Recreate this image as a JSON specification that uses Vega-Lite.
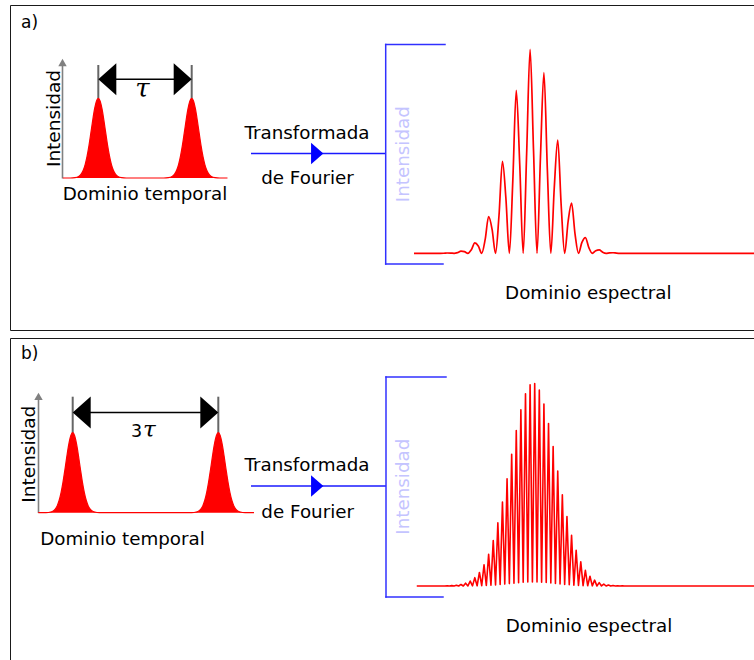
{
  "$schema": "https://vega.github.io/schema/vega-lite/v6.json",
  "width": 754,
  "height": 660,
  "autosize": {"type": "none"},
  "padding": 0,
  "background": "white",
  "config": {"view": {"stroke": null}, "text": {"font": "DejaVu Sans"}},
  "datasets": {
    "marcos": [
      {"x": 10.5, "x2": 754, "y": 5.5, "y2": 5.5},
      {"x": 10.5, "x2": 10.5, "y": 5.5, "y2": 330.5},
      {"x": 10.5, "x2": 754, "y": 330.5, "y2": 330.5},
      {"x": 10.5, "x2": 754, "y": 338.5, "y2": 338.5},
      {"x": 10.5, "x2": 10.5, "y": 338.5, "y2": 660}
    ],
    "ejes": [
      {"x": 62.5, "x2": 62.5, "y": 178.5, "y2": 65},
      {"x": 38.5, "x2": 38.5, "y": 513, "y2": 399}
    ],
    "puntas_eje": [
      {"x": 62.5, "y": 62.5},
      {"x": 38.5, "y": 396.4}
    ],
    "marcadores": [
      {"x": 98.3, "x2": 98.3, "y": 65, "y2": 98.5},
      {"x": 191.7, "x2": 191.7, "y": 65, "y2": 98.5},
      {"x": 72.7, "x2": 72.7, "y": 396.7, "y2": 433},
      {"x": 218.3, "x2": 218.3, "y": 396.7, "y2": 433}
    ],
    "flechas_retardo": [
      {"x": 100, "x2": 190, "y": 79.2, "y2": 79.2},
      {"x": 74, "x2": 217, "y": 412.5, "y2": 412.5}
    ],
    "puntas_izq": [
      {"x": 107.3, "y": 79.2},
      {"x": 81.7, "y": 412.5}
    ],
    "puntas_der": [
      {"x": 182.7, "y": 79.2},
      {"x": 209.3, "y": 412.5}
    ],
    "flechas_ft": [
      {"x": 251, "x2": 385.7, "y": 153.5, "y2": 153.5},
      {"x": 251, "x2": 386, "y": 486, "y2": 486}
    ],
    "puntas_ft": [
      {"x": 317.2, "y": 153.5},
      {"x": 317.2, "y": 486}
    ],
    "corchetes": [
      {"x": 385.7, "x2": 445, "y": 44.5, "y2": 44.5},
      {"x": 385.7, "x2": 385.7, "y": 44.5, "y2": 264},
      {"x": 385.7, "x2": 443, "y": 264, "y2": 264},
      {"x": 386, "x2": 446, "y": 377, "y2": 377},
      {"x": 386, "x2": 386, "y": 377, "y2": 597},
      {"x": 386, "x2": 443, "y": 597, "y2": 597}
    ],
    "paneles": [
      {"x": 21, "y": 28, "label": "a)"},
      {"x": 21, "y": 359, "label": "b)"}
    ],
    "rotulos": [
      {"x": 307, "y": 138.5, "label": "Transformada"},
      {"x": 307.5, "y": 184, "label": "de Fourier"},
      {"x": 145, "y": 199.5, "label": "Dominio temporal"},
      {"x": 588.3, "y": 298.5, "label": "Dominio espectral"},
      {"x": 307, "y": 470.7, "label": "Transformada"},
      {"x": 307.7, "y": 517.5, "label": "de Fourier"},
      {"x": 122.5, "y": 545, "label": "Dominio temporal"},
      {"x": 589, "y": 632, "label": "Dominio espectral"}
    ],
    "rotulos_verticales": [
      {"x": 59.5, "y": 118.5, "label": "Intensidad"},
      {"x": 34.5, "y": 454.2, "label": "Intensidad"}
    ],
    "rotulos_espectro": [
      {"x": 408.5, "y": 154.2, "label": "Intensidad"},
      {"x": 408.5, "y": 486.7, "label": "Intensidad"}
    ],
    "retardo_a": [{"x": 142.5, "y": 97, "label": "τ"}],
    "factor_b": [{"x": 136.5, "y": 436.7, "label": "3"}],
    "retardo_b": [{"x": 149.3, "y": 436.5, "label": "τ"}],
    "pulsos_a": [
      {"t": -0.38, "intensidad": 0}, {"t": -0.3, "intensidad": 0},
      {"t": -0.25, "intensidad": 0.0036}, {"t": -0.21, "intensidad": 0.0188},
      {"t": -0.18, "intensidad": 0.054}, {"t": -0.16, "intensidad": 0.0997},
      {"t": -0.14, "intensidad": 0.171}, {"t": -0.12, "intensidad": 0.273},
      {"t": -0.1, "intensidad": 0.406}, {"t": -0.08, "intensidad": 0.562},
      {"t": -0.06, "intensidad": 0.723}, {"t": -0.04, "intensidad": 0.866},
      {"t": -0.02, "intensidad": 0.965}, {"t": 0, "intensidad": 1},
      {"t": 0.02, "intensidad": 0.965}, {"t": 0.04, "intensidad": 0.866},
      {"t": 0.06, "intensidad": 0.723}, {"t": 0.08, "intensidad": 0.562},
      {"t": 0.1, "intensidad": 0.406}, {"t": 0.12, "intensidad": 0.273},
      {"t": 0.14, "intensidad": 0.171}, {"t": 0.16, "intensidad": 0.0997},
      {"t": 0.18, "intensidad": 0.054}, {"t": 0.21, "intensidad": 0.0188},
      {"t": 0.25, "intensidad": 0.0036}, {"t": 0.3, "intensidad": 0},
      {"t": 0.7, "intensidad": 0}, {"t": 0.75, "intensidad": 0.0036},
      {"t": 0.79, "intensidad": 0.0188}, {"t": 0.82, "intensidad": 0.054},
      {"t": 0.84, "intensidad": 0.0997}, {"t": 0.86, "intensidad": 0.171},
      {"t": 0.88, "intensidad": 0.273}, {"t": 0.9, "intensidad": 0.406},
      {"t": 0.92, "intensidad": 0.562}, {"t": 0.94, "intensidad": 0.723},
      {"t": 0.96, "intensidad": 0.866}, {"t": 0.98, "intensidad": 0.965},
      {"t": 1, "intensidad": 1}, {"t": 1.02, "intensidad": 0.965},
      {"t": 1.04, "intensidad": 0.866}, {"t": 1.06, "intensidad": 0.723},
      {"t": 1.08, "intensidad": 0.562}, {"t": 1.1, "intensidad": 0.406},
      {"t": 1.12, "intensidad": 0.273}, {"t": 1.14, "intensidad": 0.171},
      {"t": 1.16, "intensidad": 0.0997}, {"t": 1.18, "intensidad": 0.054},
      {"t": 1.21, "intensidad": 0.0188}, {"t": 1.25, "intensidad": 0.0036},
      {"t": 1.3, "intensidad": 0}, {"t": 1.383, "intensidad": 0}
    ],
    "pulsos_b": [
      {"t": -0.709, "intensidad": 0}, {"t": -0.6, "intensidad": 0},
      {"t": -0.5, "intensidad": 0.0025}, {"t": -0.42, "intensidad": 0.0144},
      {"t": -0.36, "intensidad": 0.0444}, {"t": -0.32, "intensidad": 0.0853},
      {"t": -0.28, "intensidad": 0.152}, {"t": -0.24, "intensidad": 0.25},
      {"t": -0.2, "intensidad": 0.382}, {"t": -0.16, "intensidad": 0.54},
      {"t": -0.12, "intensidad": 0.707}, {"t": -0.08, "intensidad": 0.857},
      {"t": -0.04, "intensidad": 0.962}, {"t": 0, "intensidad": 1},
      {"t": 0.04, "intensidad": 0.962}, {"t": 0.08, "intensidad": 0.857},
      {"t": 0.12, "intensidad": 0.707}, {"t": 0.16, "intensidad": 0.54},
      {"t": 0.2, "intensidad": 0.382}, {"t": 0.24, "intensidad": 0.25},
      {"t": 0.28, "intensidad": 0.152}, {"t": 0.32, "intensidad": 0.0853},
      {"t": 0.36, "intensidad": 0.0444}, {"t": 0.42, "intensidad": 0.0144},
      {"t": 0.5, "intensidad": 0.0025}, {"t": 0.6, "intensidad": 0},
      {"t": 2.4, "intensidad": 0}, {"t": 2.5, "intensidad": 0.0025},
      {"t": 2.58, "intensidad": 0.0144}, {"t": 2.64, "intensidad": 0.0444},
      {"t": 2.68, "intensidad": 0.0853}, {"t": 2.72, "intensidad": 0.152},
      {"t": 2.76, "intensidad": 0.25}, {"t": 2.8, "intensidad": 0.382},
      {"t": 2.84, "intensidad": 0.54}, {"t": 2.88, "intensidad": 0.707},
      {"t": 2.92, "intensidad": 0.857}, {"t": 2.96, "intensidad": 0.962},
      {"t": 3, "intensidad": 1}, {"t": 3.04, "intensidad": 0.962},
      {"t": 3.08, "intensidad": 0.857}, {"t": 3.12, "intensidad": 0.707},
      {"t": 3.16, "intensidad": 0.54}, {"t": 3.2, "intensidad": 0.382},
      {"t": 3.24, "intensidad": 0.25}, {"t": 3.28, "intensidad": 0.152},
      {"t": 3.32, "intensidad": 0.0853}, {"t": 3.36, "intensidad": 0.0444},
      {"t": 3.42, "intensidad": 0.0144}, {"t": 3.5, "intensidad": 0.0025},
      {"t": 3.6, "intensidad": 0}, {"t": 3.736, "intensidad": 0}
    ],
    "espectro_a": [
      {"nu": -8.4, "intensidad": 0}, {"nu": -6.5, "intensidad": 0},
      {"nu": -6.25, "intensidad": 0.0003}, {"nu": -6, "intensidad": 0.0014},
      {"nu": -5.75, "intensidad": 0.0012}, {"nu": -5.5, "intensidad": 0},
      {"nu": -5.25, "intensidad": 0.0032}, {"nu": -5, "intensidad": 0.0102},
      {"nu": -4.75, "intensidad": 0.0079}, {"nu": -4.5, "intensidad": 0},
      {"nu": -4.25, "intensidad": 0.0176}, {"nu": -4, "intensidad": 0.0508},
      {"nu": -3.75, "intensidad": 0.036}, {"nu": -3.5, "intensidad": 0},
      {"nu": -3.25, "intensidad": 0.0677}, {"nu": -3, "intensidad": 0.1796},
      {"nu": -2.75, "intensidad": 0.1167}, {"nu": -2.5, "intensidad": 0},
      {"nu": -2.25, "intensidad": 0.1846}, {"nu": -2, "intensidad": 0.4494},
      {"nu": -1.75, "intensidad": 0.2678}, {"nu": -1.5, "intensidad": 0},
      {"nu": -1.25, "intensidad": 0.3562}, {"nu": -1, "intensidad": 0.7955},
      {"nu": -0.75, "intensidad": 0.4346}, {"nu": -0.5, "intensidad": 0},
      {"nu": -0.25, "intensidad": 0.4863}, {"nu": 0, "intensidad": 0.9961},
      {"nu": 0.25, "intensidad": 0.4991}, {"nu": 0.5, "intensidad": 0},
      {"nu": 0.75, "intensidad": 0.4698}, {"nu": 1, "intensidad": 0.8825},
      {"nu": 1.25, "intensidad": 0.4056}, {"nu": 1.5, "intensidad": 0},
      {"nu": 1.75, "intensidad": 0.3211}, {"nu": 2, "intensidad": 0.5532},
      {"nu": 2.25, "intensidad": 0.2332}, {"nu": 2.5, "intensidad": 0},
      {"nu": 2.75, "intensidad": 0.1553}, {"nu": 3, "intensidad": 0.2453},
      {"nu": 3.25, "intensidad": 0.0948}, {"nu": 3.5, "intensidad": 0},
      {"nu": 3.75, "intensidad": 0.0531}, {"nu": 4, "intensidad": 0.0769},
      {"nu": 4.25, "intensidad": 0.0273}, {"nu": 4.5, "intensidad": 0},
      {"nu": 4.75, "intensidad": 0.0128}, {"nu": 5, "intensidad": 0.0171},
      {"nu": 5.25, "intensidad": 0.0056}, {"nu": 5.5, "intensidad": 0},
      {"nu": 5.75, "intensidad": 0.0022}, {"nu": 6, "intensidad": 0.0027},
      {"nu": 6.25, "intensidad": 0.0009}, {"nu": 6.5, "intensidad": 0},
      {"nu": 16.2, "intensidad": 0}
    ],
    "espectro_b": [
      {"nu": -8.2, "intensidad": 0}, {"nu": -6.167, "intensidad": 0},
      {"nu": -6, "intensidad": 0.001}, {"nu": -5.833, "intensidad": 0},
      {"nu": -5.667, "intensidad": 0.002}, {"nu": -5.5, "intensidad": 0},
      {"nu": -5.333, "intensidad": 0.004}, {"nu": -5.167, "intensidad": 0},
      {"nu": -5, "intensidad": 0.0076}, {"nu": -4.833, "intensidad": 0.0002},
      {"nu": -4.667, "intensidad": 0.0138}, {"nu": -4.5, "intensidad": 0.0004},
      {"nu": -4.333, "intensidad": 0.0243}, {"nu": -4.167, "intensidad": 0.0006},
      {"nu": -4, "intensidad": 0.0411}, {"nu": -3.833, "intensidad": 0.0011},
      {"nu": -3.667, "intensidad": 0.0666}, {"nu": -3.5, "intensidad": 0.0017},
      {"nu": -3.333, "intensidad": 0.1041}, {"nu": -3.167, "intensidad": 0.0026},
      {"nu": -3, "intensidad": 0.1558}, {"nu": -2.833, "intensidad": 0.0038},
      {"nu": -2.667, "intensidad": 0.2244}, {"nu": -2.5, "intensidad": 0.0053},
      {"nu": -2.333, "intensidad": 0.3108}, {"nu": -2.167, "intensidad": 0.0072},
      {"nu": -2, "intensidad": 0.4134}, {"nu": -1.833, "intensidad": 0.0094},
      {"nu": -1.667, "intensidad": 0.5281}, {"nu": -1.5, "intensidad": 0.0118},
      {"nu": -1.333, "intensidad": 0.649}, {"nu": -1.167, "intensidad": 0.0142},
      {"nu": -1, "intensidad": 0.7658}, {"nu": -0.833, "intensidad": 0.0164},
      {"nu": -0.667, "intensidad": 0.8684}, {"nu": -0.5, "intensidad": 0.0182},
      {"nu": -0.333, "intensidad": 0.9467}, {"nu": -0.167, "intensidad": 0.0195},
      {"nu": 0, "intensidad": 0.9914}, {"nu": 0.167, "intensidad": 0.02},
      {"nu": 0.333, "intensidad": 0.9977}, {"nu": 0.5, "intensidad": 0.0197},
      {"nu": 0.667, "intensidad": 0.9648}, {"nu": 0.833, "intensidad": 0.0187},
      {"nu": 1, "intensidad": 0.8967}, {"nu": 1.167, "intensidad": 0.017},
      {"nu": 1.333, "intensidad": 0.8008}, {"nu": 1.5, "intensidad": 0.0149},
      {"nu": 1.667, "intensidad": 0.687}, {"nu": 1.833, "intensidad": 0.0125},
      {"nu": 2, "intensidad": 0.5667}, {"nu": 2.167, "intensidad": 0.0101},
      {"nu": 2.333, "intensidad": 0.4491}, {"nu": 2.5, "intensidad": 0.0079},
      {"nu": 2.667, "intensidad": 0.3418}, {"nu": 2.833, "intensidad": 0.0059},
      {"nu": 3, "intensidad": 0.2502}, {"nu": 3.167, "intensidad": 0.0042},
      {"nu": 3.333, "intensidad": 0.176}, {"nu": 3.5, "intensidad": 0.0029},
      {"nu": 3.667, "intensidad": 0.1188}, {"nu": 3.833, "intensidad": 0.0019},
      {"nu": 4, "intensidad": 0.0772}, {"nu": 4.167, "intensidad": 0.0012},
      {"nu": 4.333, "intensidad": 0.0482}, {"nu": 4.5, "intensidad": 0.0008},
      {"nu": 4.667, "intensidad": 0.0289}, {"nu": 4.833, "intensidad": 0.0004},
      {"nu": 5, "intensidad": 0.0166}, {"nu": 5.167, "intensidad": 0.0002},
      {"nu": 5.333, "intensidad": 0.0092}, {"nu": 5.5, "intensidad": 0},
      {"nu": 5.667, "intensidad": 0.0049}, {"nu": 5.833, "intensidad": 0},
      {"nu": 6, "intensidad": 0.0025}, {"nu": 6.167, "intensidad": 0},
      {"nu": 6.333, "intensidad": 0.0012}, {"nu": 6.5, "intensidad": 0},
      {"nu": 6.667, "intensidad": 0.0006}, {"nu": 6.833, "intensidad": 0},
      {"nu": 16.2, "intensidad": 0}
    ]
  },
  "layer": [
    {
      "encoding": {
        "x": {"field": "x", "type": "quantitative", "axis": null,
              "scale": {"domain": [0, 754], "range": [0, 754], "nice": false, "zero": false}},
        "y": {"field": "y", "type": "quantitative", "axis": null,
              "scale": {"domain": [0, 660], "range": [0, 660], "nice": false, "zero": false}}
      },
      "layer": [
        {
          "data": {"name": "marcos"},
          "mark": {"type": "rule", "stroke": "#1a1a1a", "strokeWidth": 1},
          "encoding": {"x2": {"field": "x2"}, "y2": {"field": "y2"}}
        },
        {
          "data": {"name": "ejes"},
          "mark": {"type": "rule", "stroke": "#808080", "strokeWidth": 1.6},
          "encoding": {"x2": {"field": "x2"}, "y2": {"field": "y2"}}
        },
        {
          "data": {"name": "marcadores"},
          "mark": {"type": "rule", "stroke": "#666666", "strokeWidth": 2},
          "encoding": {"x2": {"field": "x2"}, "y2": {"field": "y2"}}
        },
        {
          "data": {"name": "flechas_retardo"},
          "mark": {"type": "rule", "stroke": "#000000", "strokeWidth": 1.5},
          "encoding": {"x2": {"field": "x2"}, "y2": {"field": "y2"}}
        },
        {
          "data": {"name": "flechas_ft"},
          "mark": {"type": "rule", "stroke": "#1a1aff", "strokeWidth": 1.3},
          "encoding": {"x2": {"field": "x2"}, "y2": {"field": "y2"}}
        },
        {
          "data": {"name": "corchetes"},
          "mark": {"type": "rule", "stroke": "#3030ff", "strokeWidth": 1.5, "strokeCap": "square"},
          "encoding": {"x2": {"field": "x2"}, "y2": {"field": "y2"}}
        },
        {
          "data": {"name": "puntas_eje"},
          "mark": {"type": "point", "shape": "M0,-0.87L1,0.87L-1,0.87Z", "size": 71,
                   "filled": true, "fill": "#808080", "strokeWidth": 0, "opacity": 1}
        },
        {
          "data": {"name": "puntas_izq"},
          "mark": {"type": "point", "shape": "M-0.5625,0L0.5625,-1L0.5625,1Z", "size": 1024,
                   "filled": true, "fill": "#000000", "strokeWidth": 0, "opacity": 1}
        },
        {
          "data": {"name": "puntas_der"},
          "mark": {"type": "point", "shape": "M0.5625,0L-0.5625,-1L-0.5625,1Z", "size": 1024,
                   "filled": true, "fill": "#000000", "strokeWidth": 0, "opacity": 1}
        },
        {
          "data": {"name": "puntas_ft"},
          "mark": {"type": "point", "shape": "M0.567,0L-0.567,-1L-0.567,1Z", "size": 471,
                   "filled": true, "fill": "#0000ff", "strokeWidth": 0, "opacity": 1}
        },
        {
          "data": {"name": "paneles"},
          "mark": {"type": "text", "fontSize": 17, "align": "left", "baseline": "alphabetic", "fill": "#000000"},
          "encoding": {"text": {"field": "label"}}
        },
        {
          "data": {"name": "rotulos"},
          "mark": {"type": "text", "fontSize": 18.3, "align": "center", "baseline": "alphabetic", "fill": "#000000"},
          "encoding": {"text": {"field": "label"}}
        },
        {
          "data": {"name": "rotulos_verticales"},
          "mark": {"type": "text", "fontSize": 18.5, "angle": 270, "align": "center", "baseline": "alphabetic", "fill": "#000000"},
          "encoding": {"text": {"field": "label"}}
        },
        {
          "data": {"name": "rotulos_espectro"},
          "mark": {"type": "text", "fontSize": 18.3, "angle": 270, "align": "center", "baseline": "alphabetic", "fill": "#c4c4ff"},
          "encoding": {"text": {"field": "label"}}
        },
        {
          "data": {"name": "retardo_a"},
          "mark": {"type": "text", "font": "DejaVu Serif", "fontStyle": "italic", "fontSize": 26, "align": "center", "baseline": "alphabetic", "fill": "#000000"},
          "encoding": {"text": {"field": "label"}}
        },
        {
          "data": {"name": "factor_b"},
          "mark": {"type": "text", "fontSize": 17.5, "align": "center", "baseline": "alphabetic", "fill": "#000000"},
          "encoding": {"text": {"field": "label"}}
        },
        {
          "data": {"name": "retardo_b"},
          "mark": {"type": "text", "font": "DejaVu Serif", "fontStyle": "italic", "fontSize": 23, "align": "center", "baseline": "alphabetic", "fill": "#000000"},
          "encoding": {"text": {"field": "label"}}
        }
      ]
    },
    {
      "data": {"name": "pulsos_a"},
      "mark": {"type": "area", "interpolate": "monotone", "fill": "#ff0000", "opacity": 1,
               "line": {"stroke": "#ff0000", "strokeWidth": 1.2}},
      "encoding": {
        "x": {"field": "t", "type": "quantitative", "axis": null,
              "scale": {"domain": [0, 1], "range": [98.3, 191.7], "nice": false, "zero": false}},
        "y": {"field": "intensidad", "type": "quantitative", "axis": null, "stack": null,
              "scale": {"domain": [0, 1], "range": [178, 98.3], "nice": false, "zero": false}}
      }
    },
    {
      "data": {"name": "pulsos_b"},
      "mark": {"type": "area", "interpolate": "monotone", "fill": "#ff0000", "opacity": 1,
               "line": {"stroke": "#ff0000", "strokeWidth": 1.2}},
      "encoding": {
        "x": {"field": "t", "type": "quantitative", "axis": null,
              "scale": {"domain": [0, 3], "range": [72.7, 218.3], "nice": false, "zero": false}},
        "y": {"field": "intensidad", "type": "quantitative", "axis": null, "stack": null,
              "scale": {"domain": [0, 1], "range": [512.7, 432.7], "nice": false, "zero": false}}
      }
    },
    {
      "data": {"name": "espectro_a"},
      "mark": {"type": "line", "interpolate": "monotone", "stroke": "#ff0000", "strokeWidth": 1.7, "strokeJoin": "round"},
      "encoding": {
        "x": {"field": "nu", "type": "quantitative", "axis": null,
              "scale": {"domain": [-8.4, 16.2], "range": [414, 754], "nice": false, "zero": false}},
        "y": {"field": "intensidad", "type": "quantitative", "axis": null,
              "scale": {"domain": [0, 1], "range": [253.3, 48.5], "nice": false, "zero": false}}
      }
    },
    {
      "data": {"name": "espectro_b"},
      "mark": {"type": "line", "interpolate": "linear", "stroke": "#ff0000", "strokeWidth": 1.6, "strokeJoin": "round"},
      "encoding": {
        "x": {"field": "nu", "type": "quantitative", "axis": null,
              "scale": {"domain": [-8.4, 16.2], "range": [414, 754], "nice": false, "zero": false}},
        "y": {"field": "intensidad", "type": "quantitative", "axis": null,
              "scale": {"domain": [0, 1], "range": [586, 383], "nice": false, "zero": false}}
      }
    }
  ],
  "resolve": {"scale": {"x": "independent", "y": "independent"}}
}
